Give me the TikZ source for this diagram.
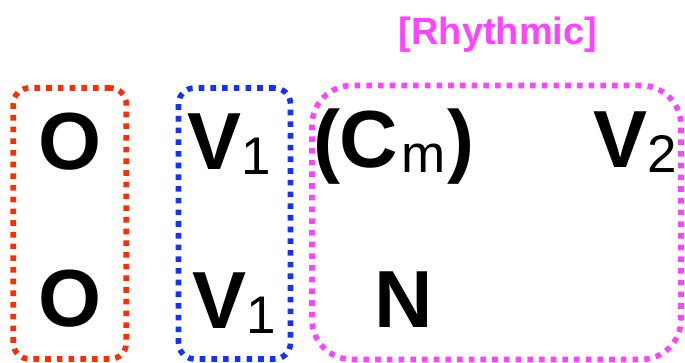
\documentclass[tikz,border=0pt]{standalone}
\usepackage{fontspec}
\setmainfont{Liberation Sans}
\definecolor{boxred}{RGB}{255,45,0}
\definecolor{boxblue}{RGB}{20,50,255}
\definecolor{boxmag}{RGB}{255,68,255}
\newcommand{\bigtxt}{\fontsize{81}{90}\selectfont\bfseries}
\newcommand{\subtxt}[1]{\raisebox{-5pt}{\fontsize{53}{60}\selectfont\mdseries #1}}
\begin{document}
\begin{tikzpicture}[x=1pt,y=-1pt,
  dotbox/.style={draw, line width=5.6pt, dash pattern=on 5.6pt off 6.1pt, fill=none},
  word/.style={inner sep=0pt, outer sep=0pt, font=\bigtxt}]
\useasboundingbox (0,0) rectangle (685,363);
% boxes
\node[dotbox, draw=boxred, rounded corners=16pt, minimum width=113pt, minimum height=271pt, inner sep=0pt] (redbox) at (69.75,223.5) {};
\node[dotbox, draw=boxblue, rounded corners=16pt, minimum width=112pt, minimum height=271pt, inner sep=0pt] (bluebox) at (234.5,223.5) {};
\node[dotbox, draw=boxmag, rounded corners=40pt, minimum width=369pt, minimum height=274pt, inner sep=0pt] (magbox) at (496.5,222.5) {};
% label
\node[inner sep=0pt, anchor=base, text=boxmag, font=\fontsize{38}{44}\selectfont\bfseries] (rhythm) at (498,45) {[Rhythmic]};
% texts
\node[word, anchor=base] (o1) at (70,170) {O};
\node[word, anchor=base] (o2) at (70,326) {O};
\node[word, anchor=base west] (v1a) at (187,170) {V\subtxt{1}};
\node[word, anchor=base west] (v1b) at (192,328) {V\subtxt{1}};
\node[word, anchor=base west] (cm) at (313,168) {(C\hspace{3pt}\subtxt{m}\hspace{2pt})};
\node[word, anchor=base west] (v2) at (593,168) {V\subtxt{2}};
\node[word, anchor=base] (n) at (404,327) {N};
\end{tikzpicture}
\end{document}
